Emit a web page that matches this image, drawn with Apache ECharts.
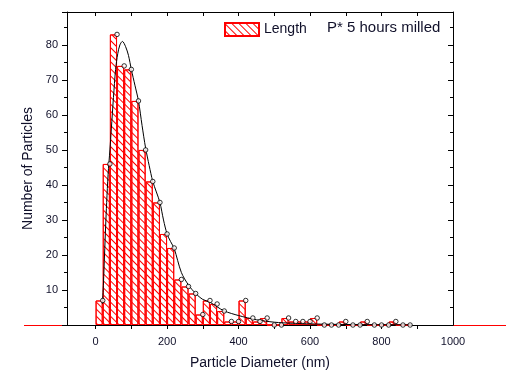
<!DOCTYPE html>
<html>
<head>
<meta charset="utf-8">
<script src="https://cdn.jsdelivr.net/npm/echarts@6/dist/echarts.min.js"></script>
<style>
  html, body { margin: 0; padding: 0; background: #fff; }
  #main { width: 510px; height: 380px; }
</style>
</head>
<body>
<div id="main"></div>
<script>
// histogram bins, 20 nm wide, starting at binStarts[i]
var binWidth = 20;
var binStarts = [0, 20, 40, 60, 80, 100, 120, 140, 160, 180, 200, 220, 240, 260, 280, 300,
  320, 340, 360, 380, 400, 420, 440, 460, 480, 500, 520, 540, 560, 580, 600, 620,
  640, 660, 680, 700, 720, 740, 760, 780, 800, 820, 840, 860];
var counts = [7, 46, 83, 74, 73, 64, 50, 41, 35, 26, 22, 13, 11, 9, 3, 7,
  6, 4, 1, 1, 7, 2, 1, 2, 0, 0, 2, 1, 1, 1, 2, 0,
  0, 0, 1, 0, 0, 1, 0, 0, 0, 1, 0, 0];

// fitted curve
var fitX = [19, 22, 25, 28, 31, 35, 40, 44, 50, 56, 62, 68, 75, 84, 92, 100, 110, 120, 130, 140,
  150, 160, 170, 180, 190, 200, 210, 220, 240, 260, 280, 300, 320, 340, 360, 400, 450, 500, 550, 630, 750, 885];
var fitY = [6, 12, 20, 28, 35, 43, 50, 56, 65, 73, 77.5, 80, 81, 79.5, 77, 73, 68.5, 64, 57, 50.5,
  45.5, 41, 38, 35, 30, 26, 23.8, 21.8, 15, 11.4, 9, 7.3, 6.5, 5.2, 4, 2.7, 1.5, 0.8, 0.5, 0.25, 0.1, 0.05];

var xLabels = [0, 200, 400, 600, 800, 1000];
var xTicks = [0, 100, 200, 300, 400, 500, 600, 700, 800, 900];

var font = 'Liberation Sans';
var ink = '#10102a';

var barData = binStarts.map(function (s, i) { return [s + binWidth / 2, counts[i]]; });
var pointData = binStarts.map(function (s, i) { return [s + binWidth, counts[i]]; });
var fitData = fitX.map(function (x, i) { return [x, fitY[i]]; });

var myChart = echarts.init(document.getElementById('main'));
var option = {
  animation: false,
  title: {
    text: 'P* 5 hours milled',
    left: 322, top: 15,
    textStyle: { fontFamily: font, fontSize: 15, fontWeight: 'normal', color: ink }
  },
  legend: {
    left: 219, top: 17,
    itemWidth: 34, itemHeight: 13,
    icon: 'rect',
    data: ['Length'],
    textStyle: { fontFamily: font, fontSize: 14, color: ink }
  },
  grid: { left: 67, right: 57, top: 12, bottom: 55 },
  xAxis: [{
    type: 'value', min: -80, max: 1000,
    name: 'Particle Diameter (nm)', nameLocation: 'middle', nameGap: 31,
    nameTextStyle: { fontFamily: font, fontSize: 14, color: ink },
    axisLine: { onZero: false, lineStyle: { color: '#000' } },
    axisTick: { customValues: xTicks, length: 4, lineStyle: { color: '#000' } },
    axisLabel: {
      customValues: xLabels, fontFamily: font, fontSize: 11, color: ink, margin: 11,
      formatter: function (v) { return String(v); }
    },
    splitLine: { show: false }
  }, {
    type: 'value', min: -80, max: 1000, position: 'top',
    axisLine: { onZero: false, lineStyle: { color: '#000' } },
    axisTick: { customValues: xTicks, inside: true, length: 4, lineStyle: { color: '#000' } },
    axisLabel: { show: false },
    splitLine: { show: false }
  }],
  yAxis: [{
    type: 'value', min: 0, max: 89.4, interval: 10,
    name: 'Number of Particles', nameLocation: 'middle', nameGap: 28,
    nameTextStyle: { fontFamily: font, fontSize: 14, color: ink },
    axisLine: { show: true, onZero: false, lineStyle: { color: '#000' } },
    axisTick: { length: 5, lineStyle: { color: '#000' } },
    minorTick: { show: true, splitNumber: 2, length: 3, lineStyle: { color: '#000' } },
    axisLabel: { showMinLabel: false, showMaxLabel: false, fontFamily: font, fontSize: 11, color: ink, margin: 9 },
    splitLine: { show: false }
  }, {
    type: 'value', min: 0, max: 89.4, interval: 10, position: 'right',
    axisLine: { show: true, onZero: false, lineStyle: { color: '#000' } },
    axisTick: { inside: true, length: 5, lineStyle: { color: '#000' } },
    minorTick: { show: true, splitNumber: 2, length: 3, lineStyle: { color: '#000' } },
    axisLabel: { show: false },
    splitLine: { show: false }
  }],
  series: [{
    name: 'Length',
    type: 'bar',
    barWidth: '100%',
    data: barData,
    itemStyle: {
      color: '#fff',
      borderColor: '#ff0000',
      borderWidth: 1,
      decal: {
        symbol: 'rect', symbolSize: 1, color: '#ff0000',
        dashArrayX: [1, 0], dashArrayY: [1, 4],
        rotation: Math.PI / 4
      }
    }
  }, {
    name: 'fit',
    type: 'line',
    data: fitData,
    smooth: 0.3,
    symbol: 'none',
    lineStyle: { color: '#000', width: 1 },
    z: 3
  }, {
    name: 'points',
    type: 'scatter',
    data: pointData,
    symbol: 'circle',
    symbolSize: 4.5,
    itemStyle: { color: '#fff', borderColor: '#000', borderWidth: 1 },
    z: 4
  }]
};
myChart.setOption(option);

// red zero line that continues outside the frame on both sides
var y0 = Math.round(myChart.convertToPixel({ yAxisIndex: 0 }, 0)) + 0.5;
var xLeft = myChart.convertToPixel({ xAxisIndex: 0 }, -80);
var xRight = myChart.convertToPixel({ xAxisIndex: 0 }, 1000);
myChart.setOption({
  graphic: [{
    type: 'line',
    shape: { x1: 24, y1: y0, x2: xLeft, y2: y0 },
    style: { stroke: '#ff0000', lineWidth: 1 }
  }, {
    type: 'line',
    shape: { x1: xRight, y1: y0, x2: 506, y2: y0 },
    style: { stroke: '#ff0000', lineWidth: 1 }
  }]
});
</script>
</body>
</html>
